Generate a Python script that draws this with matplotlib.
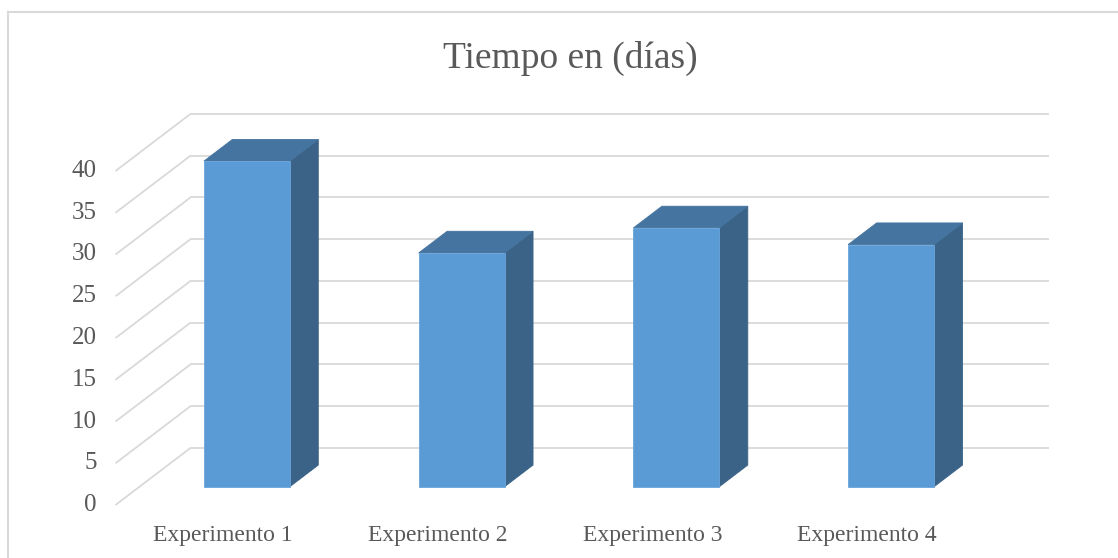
import matplotlib.pyplot as plt
from matplotlib.patches import Polygon
from matplotlib.lines import Line2D

# data
categorias = ['Experimento 1', 'Experimento 2', 'Experimento 3', 'Experimento 4']
dias = [39, 28, 31, 29]
ticks = [0, 5, 10, 15, 20, 25, 30, 35, 40]

plt.rcParams['font.family'] = 'Liberation Serif'
gris_texto = '#595959'
gris_linea = '#d9d9d9'
c_frente = '#5b9bd5'
c_arriba = '#44749f'
c_lado = '#3a6387'

# oblique projection: depth offset of the whole floor (in data units)
DX = 0.349
DY = 6.83
prof_ini, prof_fin = 0.32, 0.70   # bar depth span as a fraction of the floor
ancho = 0.40

fig = plt.figure(figsize=(11.18, 5.58), dpi=100)
ax = fig.add_axes([0, 0, 1, 1])
px_cat = 214.75
px_val = 8.35
x_izq = -0.5 - 115.5 / px_cat
y_abajo = -(558 - 505) / px_val
ax.set_xlim(x_izq, x_izq + 1118 / px_cat)
ax.set_ylim(y_abajo, y_abajo + 558 / px_val)
ax.axis('off')

x0, x1 = -0.5, len(categorias) - 0.5

# gridlines: diagonal on the left wall + horizontal on the back wall
for v in ticks:
    ax.plot([x0, x0 + DX], [v, v + DY], color=gris_linea, lw=1.3, zorder=1,
            solid_capstyle='butt')
    ax.plot([x0 + DX, x1 + DX], [v + DY, v + DY], color=gris_linea, lw=1.3,
            zorder=1, solid_capstyle='butt')
    ax.text(x0 - 19 / px_cat, v, str(v), ha='right', va='center',
            fontsize=18, color=gris_texto)

# 3d columns
for i, (cat, val) in enumerate(zip(categorias, dias)):
    xa = i - ancho / 2 + prof_ini * DX
    xb = i + ancho / 2 + prof_ini * DX
    ya = prof_ini * DY
    ddx = (prof_fin - prof_ini) * DX
    ddy = (prof_fin - prof_ini) * DY
    top = ya + val
    frente = Polygon([(xa, ya), (xb, ya), (xb, top), (xa, top)],
                     facecolor=c_frente, edgecolor='#6aa5dc', lw=0.6, zorder=3)
    lado = Polygon([(xb, ya), (xb + ddx, ya + ddy), (xb + ddx, top + ddy),
                    (xb, top)], facecolor=c_lado, edgecolor=c_lado, lw=0.6,
                   zorder=2)
    arriba = Polygon([(xa, top), (xb, top), (xb + ddx, top + ddy),
                      (xa + ddx, top + ddy)], facecolor=c_arriba,
                     edgecolor=c_arriba, lw=0.6, zorder=2)
    ax.add_patch(lado)
    ax.add_patch(arriba)
    ax.add_patch(frente)
    ax.text(i, -30 / px_val, cat, ha='center', va='center', fontsize=17,
            color=gris_texto)

fig.text(570 / 1118, 1 - 58 / 558, 'Tiempo en (días)', ha='center',
         va='center', fontsize=27, color=gris_texto)

# chart area border (left and top edges)
fig.add_artist(Line2D([8 / 1118, 8 / 1118], [0, 1 - 12 / 558],
                      color=gris_linea, lw=1.5, transform=fig.transFigure))
fig.add_artist(Line2D([8 / 1118, 1], [1 - 12 / 558, 1 - 12 / 558],
                      color=gris_linea, lw=1.5, transform=fig.transFigure))

plt.savefig('out.png', dpi=100)
